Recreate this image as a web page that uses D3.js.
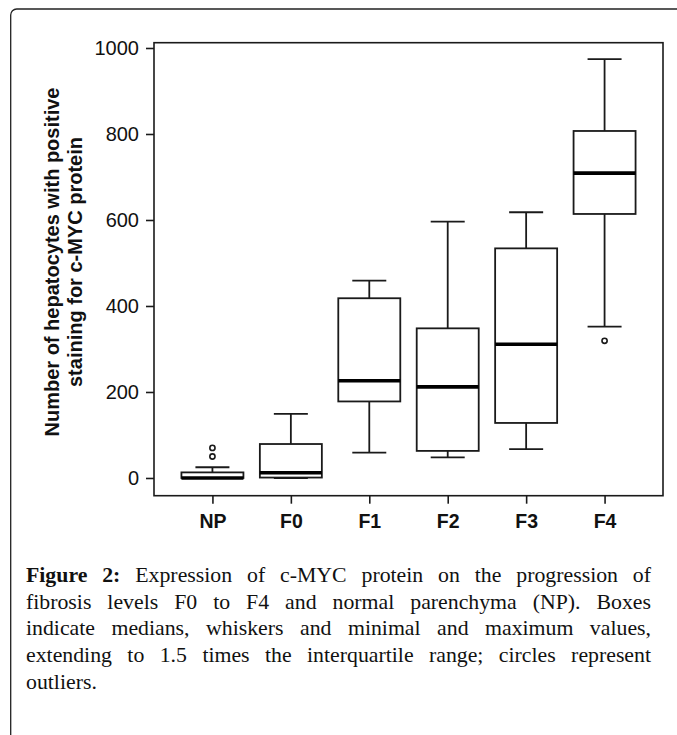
<!DOCTYPE html>
<html>
<head>
<meta charset="utf-8">
<script src="https://cdn.jsdelivr.net/npm/d3@7"></script>
<style>
  html, body { margin: 0; padding: 0; background: #fff; }
  #wrap { position: relative; width: 677px; height: 735px; overflow: hidden; }
  svg { position: absolute; left: 0; top: 0; }
  #caption { position: absolute; left: 26px; top: 562px; width: 625px;
    font-family: "Liberation Serif", "Times New Roman", serif; font-size: 21.8px;
    line-height: 26.7px; color: #111; }
  #caption div { text-align: justify; text-align-last: justify; white-space: nowrap; }
  #caption div.last { text-align-last: left; }
  #caption b { font-weight: bold; }
</style>
</head>
<body>
<div id="wrap">
<svg id="chart" width="677" height="735"></svg>
<div id="caption"></div>
</div>
<script>
// ---- data ----
const categories   = ["NP", "F0", "F1", "F2", "F3", "F4"];
const whiskerLow   = [0, 0, 59, 48, 67, 352];
const q1           = [0, 1, 178, 63, 128, 614];
const median       = [0, 12, 226, 212, 311, 709];
const q3           = [13, 79, 418, 348, 534, 807];
const whiskerHigh  = [25, 149, 459, 596, 618, 974];
const outliers     = [[50, 70], [], [], [], [], [319]];
const yTicks       = [0, 200, 400, 600, 800, 1000];
const yLabelLines  = ["Number of hepatocytes with positive", "staining for c-MYC protein"];
const captionLines = [
  ["Figure 2:", " Expression of c-MYC protein on the progression of"],
  ["", "fibrosis levels F0 to F4 and normal parenchyma (NP). Boxes"],
  ["", "indicate medians, whiskers and minimal and maximum values,"],
  ["", "extending to 1.5 times the interquartile range; circles represent"],
  ["", "outliers."]
];

// ---- layout ----
const frame = { left: 154, right: 663, top: 42.7, bottom: 495.7 };
const ink = "#1a1a1a";

const svg = d3.select("#chart");

// outer page border (rounded corner)
svg.append("rect")
  .attr("x", 10.7).attr("y", 9).attr("width", 700).attr("height", 760)
  .attr("rx", 6).attr("ry", 6)
  .attr("fill", "none").attr("stroke", "#222").attr("stroke-width", 1.3);

const x = d3.scalePoint().domain(categories)
  .range([frame.left, frame.right]).padding(0.745);
const y = d3.scaleLinear().domain([-41.2, 1012.3]).range([frame.bottom, frame.top]);

// frame
svg.append("rect")
  .attr("x", frame.left).attr("y", frame.top)
  .attr("width", frame.right - frame.left).attr("height", frame.bottom - frame.top)
  .attr("fill", "none").attr("stroke", ink).attr("stroke-width", 1.6);

// y axis
const yAxis = d3.axisLeft(y).tickValues(yTicks).tickFormat(d3.format("d")).tickSize(8).tickPadding(7);
const gy = svg.append("g").attr("transform", `translate(${frame.left},0)`).call(yAxis);
gy.select(".domain").remove();
gy.selectAll(".tick line").attr("stroke", ink).attr("stroke-width", 1.6);
gy.selectAll(".tick text").attr("fill", "#111")
  .style("font-family", "'Liberation Sans', Arial, sans-serif").style("font-size", "20px");

// x axis
const xAxis = d3.axisBottom(x).tickSize(8).tickPadding(10);
const gx = svg.append("g").attr("transform", `translate(0,${frame.bottom})`).call(xAxis);
gx.select(".domain").remove();
gx.selectAll(".tick line").attr("stroke", ink).attr("stroke-width", 1.6);
gx.selectAll(".tick text").attr("fill", "#111")
  .style("font-family", "'Liberation Sans', Arial, sans-serif").style("font-size", "19.5px")
  .style("font-weight", "bold");

// y label
const yl = svg.append("text")
  .attr("transform", `translate(0,262) rotate(-90)`)
  .attr("text-anchor", "middle")
  .style("font-family", "'Liberation Sans', Arial, sans-serif").style("font-size", "20px")
  .style("font-weight", "bold").attr("fill", "#111");
yl.selectAll("tspan").data(yLabelLines).join("tspan")
  .attr("x", 0).attr("y", (d, i) => 59 + i * 22.5).text(d => d);

// boxes
const boxW = 62, capW = 34;
const data = categories.map((c, i) => ({
  c, lo: whiskerLow[i], q1: q1[i], med: median[i], q3: q3[i], hi: whiskerHigh[i], out: outliers[i]
}));

const g = svg.append("g");
const bx = g.selectAll("g.box").data(data).join("g").attr("class", "box")
  .attr("transform", d => `translate(${x(d.c)},0)`);

// whisker stems
bx.append("line").attr("x1", 0).attr("x2", 0)
  .attr("y1", d => y(d.q3)).attr("y2", d => y(d.hi))
  .attr("stroke", ink).attr("stroke-width", 1.8);
bx.append("line").attr("x1", 0).attr("x2", 0)
  .attr("y1", d => y(d.q1)).attr("y2", d => y(d.lo))
  .attr("stroke", ink).attr("stroke-width", 1.8);
// caps
bx.append("line").attr("x1", -capW / 2).attr("x2", capW / 2)
  .attr("y1", d => y(d.hi)).attr("y2", d => y(d.hi))
  .attr("stroke", ink).attr("stroke-width", 1.8);
bx.append("line").attr("x1", -capW / 2).attr("x2", capW / 2)
  .attr("y1", d => y(d.lo)).attr("y2", d => y(d.lo))
  .attr("stroke", ink).attr("stroke-width", 1.8);
// box
bx.append("rect").attr("x", -boxW / 2).attr("width", boxW)
  .attr("y", d => y(d.q3)).attr("height", d => Math.max(0, y(d.q1) - y(d.q3)))
  .attr("fill", "#fff").attr("stroke", ink).attr("stroke-width", 1.8);
// median
bx.append("line").attr("x1", -boxW / 2).attr("x2", boxW / 2)
  .attr("y1", d => y(d.med)).attr("y2", d => y(d.med))
  .attr("stroke", "#000").attr("stroke-width", 3.6);
// outliers
bx.selectAll("circle").data(d => d.out).join("circle")
  .attr("cx", 0).attr("cy", v => y(v)).attr("r", 2.6)
  .attr("fill", "#fff").attr("stroke", ink).attr("stroke-width", 1.6);

// caption
const cap = d3.select("#caption");
cap.selectAll("div").data(captionLines).join("div")
  .attr("class", (d, i) => i === captionLines.length - 1 ? "last" : null)
  .each(function (d) {
    const el = d3.select(this);
    if (d[0]) el.append("b").text(d[0]);
    el.append("span").text(d[1]);
  });
</script>
</body>
</html>
